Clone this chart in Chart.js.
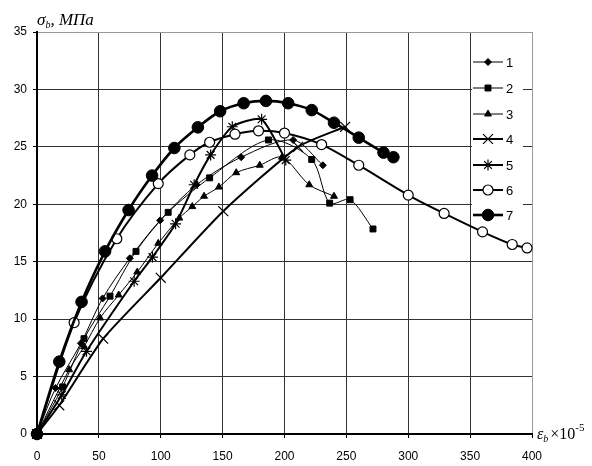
<!DOCTYPE html>
<html><head><meta charset="utf-8">
<script src="https://cdn.jsdelivr.net/npm/chart.js@4/dist/chart.umd.min.js"></script>
<style>html,body{margin:0;padding:0;background:#fff}</style>
</head><body>
<canvas id="c" width="592" height="466"></canvas>
<script>
// ---- data ----
const seriesNames = ['1','2','3','4','5','6','7'];
const xTicks = [0,50,100,150,200,250,300,350,400];
const yTicks = [0,5,10,15,20,25,30,35];

const s1x = [0,15,35.5,53,75,99.5,129,165,207,231];
const s1y = [0,4.0,7.9,11.8,15.3,18.6,21.7,24.1,25.6,23.4];

const s2x = [0,20.7,38,59,80,106,139.5,187,222,236.5,253,271.5];
const s2y = [0,4.1,8.3,12.0,15.9,19.3,22.3,25.6,23.9,20.1,20.4,17.85];

const s3x = [0,26,38,51,66,81,98,115,125.5,135,147,161,180,198,220,240];
const s3y = [0,5.6,7.6,10.1,12.1,14.1,16.6,18.8,19.8,20.7,21.5,22.75,23.4,24.1,21.7,20.7];

const s4x = [0,18,53.5,100,150.5,211,249];
const s4y = [0,2.5,8.3,13.6,19.4,25.0,26.75];

const s5x = [0,20,40,78.5,93.3,112,127,140.3,157.8,181.5,201];
const s5y = [0,3.4,7.2,13.3,15.4,18.3,21.7,24.3,26.75,27.4,23.85];

const s6x = [0,30,64.5,98,123.5,139.5,160,179,200,230,260,300,329,360,384,396];
const s6y = [0,9.7,17.0,21.8,24.3,25.4,26.1,26.4,26.2,25.2,23.4,20.8,19.2,17.6,16.5,16.2];

const s7x = [0,18,36,55,74,93,111,130,148,167,185,203,222,240,260,280,288];
const s7y = [0,6.3,11.5,15.9,19.5,22.5,24.9,26.7,28.1,28.8,29.0,28.8,28.2,27.1,25.8,24.5,24.1];

const xs = [s1x,s2x,s3x,s4x,s5x,s6x,s7x];
const ys = [s1y,s2y,s3y,s4y,s5y,s6y,s7y];

// ---- styles ----
const styles = [
  {pointStyle:'rectRot', radius:3.5, borderWidth:1, pbw:1, bg:'#000', tension:0.3},
  {pointStyle:'rect', radius:4.2, borderWidth:1, pbw:1, bg:'#000', tension:0.3},
  {pointStyle:'triangle', radius:4, borderWidth:1, pbw:1, bg:'#000', tension:0.3},
  {pointStyle:'crossRot', radius:7, borderWidth:2, pbw:1.2, bg:'#000', tension:0.2},
  {pointStyle:'star', radius:5.5, borderWidth:2, pbw:1.2, bg:'#000', tension:0.2},
  {pointStyle:'circle', radius:5, borderWidth:2, pbw:1.2, bg:'#fff', tension:0.3},
  {pointStyle:'circle', radius:5.8, borderWidth:2.6, pbw:1, bg:'#000', tension:0.3}
];

const datasets = seriesNames.map((n,i)=>({
  label:n,
  data: xs[i].map((x,k)=>({x:x, y:ys[i][k]})),
  borderColor:'#000',
  backgroundColor:'#000',
  borderWidth:styles[i].borderWidth,
  pointStyle:styles[i].pointStyle,
  pointRadius:styles[i].radius,
  pointBorderWidth:styles[i].pbw,
  pointBackgroundColor:styles[i].bg,
  pointBorderColor:'#000',
  tension:styles[i].tension,
  clip:false,
  order: 7-i
}));

const legendPlugin = {
  id:'inlegend',
  beforeDatasetsDraw(chart){
    const ctx = chart.ctx;
    ctx.save();
    ctx.fillStyle='#fff';
    ctx.fillRect(472,47,51,181);
    const rows=[62,88,114,139,165,190,215];
    chart.data.datasets.forEach((ds,i)=>{
      const y=rows[i];
      ctx.strokeStyle='#000';
      ctx.lineWidth=ds.borderWidth;
      ctx.beginPath(); ctx.moveTo(473,y); ctx.lineTo(503,y); ctx.stroke();
      ctx.fillStyle=ds.pointBackgroundColor;
      ctx.strokeStyle='#000';
      ctx.lineWidth=ds.pointBorderWidth;
      Chart.helpers.drawPoint(ctx,{pointStyle:ds.pointStyle,radius:ds.pointRadius,rotation:0,borderWidth:ds.pointBorderWidth},488,y);
      ctx.fillStyle='#000';
      ctx.font='13px "Liberation Sans", Arial, sans-serif';
      ctx.textBaseline='middle';
      ctx.textAlign='left';
      ctx.fillText(ds.label,506,y+1);
    });
    ctx.restore();
  },
  afterDraw(chart){
    const ctx=chart.ctx;
    ctx.save();
    ctx.fillStyle='#000';
    ctx.textBaseline='alphabetic';
    ctx.textAlign='left';
    // y title
    let x=37, y=25;
    ctx.font='italic 17px "Liberation Serif", serif';
    ctx.fillText('σ',x,y); x+=ctx.measureText('σ').width;
    ctx.font='italic 10px "Liberation Serif", serif';
    ctx.fillText('b',x,y+3); x+=ctx.measureText('b').width;
    ctx.font='italic 17px "Liberation Serif", serif';
    ctx.fillText(', МПа',x,y);
    // x title
    x=537; y=439;
    ctx.font='italic 16px "Liberation Serif", serif';
    ctx.fillText('ε',x,y); x+=ctx.measureText('ε').width;
    ctx.font='italic 10px "Liberation Serif", serif';
    ctx.fillText('b',x,y+3); x+=ctx.measureText('b').width+2;
    ctx.font='16px "Liberation Serif", serif';
    ctx.fillText('×10',x,y); x+=ctx.measureText('×10').width;
    ctx.font='11px "Liberation Serif", serif';
    ctx.fillText('-5',x,y-8);
    ctx.restore();
  }
};

const tickFont = {family:'"Liberation Sans", Arial, sans-serif', size:12};

new Chart(document.getElementById('c'),{
  type:'line',
  data:{datasets},
  options:{
    responsive:false,
    devicePixelRatio:1,
    animation:false,
    layout:{padding:{top:32,right:60,left:0,bottom:0}},
    plugins:{legend:{display:false},tooltip:{enabled:false}},
    scales:{
      x:{
        type:'linear', min:0, max:400,
        afterBuildTicks(s){ s.ticks = xTicks.map(v=>({value:v})); },
        afterFit(s){ s.height=32; },
        ticks:{color:'#000', font:tickFont, padding:11, maxRotation:0},
        grid:{color:(c)=> c.tick && c.tick.value===400 ? '#999' : '#333', lineWidth:1, tickLength:4, tickColor:'#000', drawTicks:true},
        border:{display:true,color:'#000',width:2}
      },
      y:{
        type:'linear', min:0, max:35,
        afterBuildTicks(s){ s.ticks = yTicks.map(v=>({value:v})); },
        afterFit(s){ s.width=37; },
        ticks:{color:'#000', font:tickFont, padding:6},
        grid:{color:(c)=> c.tick && c.tick.value===35 ? '#999' : '#333', lineWidth:1, tickLength:4, tickColor:'#000', drawTicks:true},
        border:{display:true,color:'#000',width:2}
      }
    }
  },
  plugins:[legendPlugin]
});
</script>
</body></html>
